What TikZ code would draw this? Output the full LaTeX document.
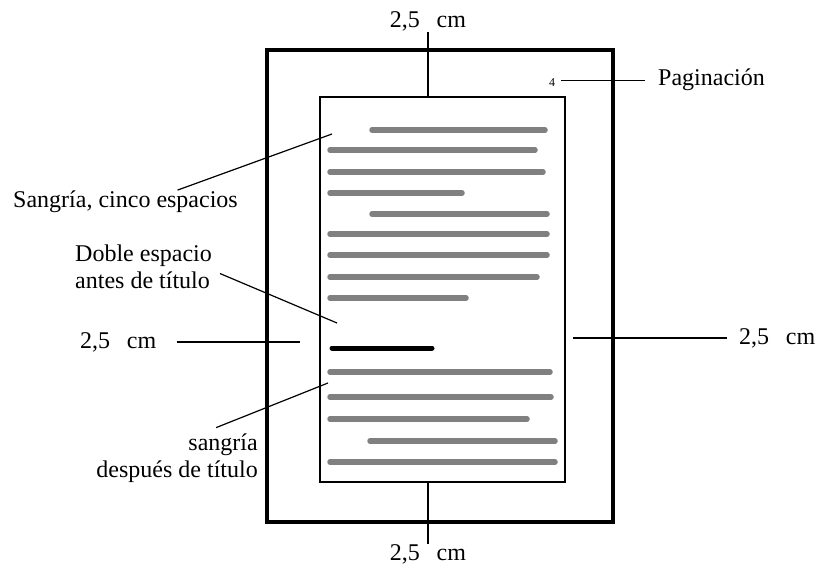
\documentclass[tikz,border=0pt]{standalone}
\usepackage{fontspec}
\setmainfont{Liberation Serif}

\begin{document}
\begin{tikzpicture}[x=1pt,y=-1pt]
    \pgfmathsetmacro{\sheetwidth}{346}
    \pgfmathsetmacro{\sheetheight}{472}
    \pgfmathsetmacro{\pagewidth}{245}
    \pgfmathsetmacro{\pageheight}{385}
    \providecommand{\labelfontsize}{\fontsize{24pt}{26.5pt}\selectfont}
    \providecommand{\numfontsize}{\fontsize{12pt}{14pt}\selectfont}
    \tikzset{
        lbl/.style={inner sep=0pt,font=\labelfontsize},
        textline/.style={line width=5.5pt,line cap=round,draw=black!50},
        titleline/.style={line width=5pt,line cap=round,draw=black},
        tick/.style={line width=2pt},
        leader/.style={line width=1.2pt},
    }
    \useasboundingbox[fill=white] (0,0) rectangle (822,567);
    % sheet and text area
    \node[draw,line width=4.5pt,minimum width=\sheetwidth pt,minimum height=\sheetheight pt,inner sep=0] (sheet) at (440,286) {};
    \node[draw,line width=2pt,minimum width=\pagewidth pt,minimum height=\pageheight pt,inner sep=0] (page) at (442.5,289.5) {};
    \foreach \y/\xa/\xb in {130/372/545,150/330/535,172/330/543,193/330/462,214/372/547,234/330/547,255/330/547,277/330/537,298/330/466,372/330/550,397/330/551,419/330/527,441/370/555,462/330/555}
        \draw[textline] (\xa,\y) -- (\xb,\y);
    \draw[titleline] (332,348) -- (432,348);
    % margins
    \node[lbl,anchor=base] (topcm) at (428,28) {2,5\hspace{0.7em}cm};
    \node[lbl,anchor=base] (bottomcm) at (428,560) {2,5\hspace{0.7em}cm};
    \node[lbl,anchor=base west] (leftcm) at (80,348) {2,5\hspace{0.7em}cm};
    \node[lbl,anchor=base west] (rightcm) at (739,344) {2,5\hspace{0.7em}cm};
    \coordinate (leftend) at (300,342);
    \coordinate (rightstart) at (573,337);
    \draw[tick] (topcm.south) -- (topcm.south |- page.north);
    \draw[tick] (bottomcm.north |- page.south) -- (bottomcm.north);
    \draw[tick] ([xshift=20pt]leftcm.east) -- (leftend |- leftcm.east);
    \draw[tick] (rightstart |- rightcm.west) -- ([xshift=-12pt]rightcm.west);
    % page number
    \node[inner sep=0pt,font=\numfontsize,anchor=base] (pagenum) at (552,87) {4};
    \node[lbl,anchor=base west] (pagination) at (658,86) {Paginación};
    \draw[leader] ([xshift=6pt]pagenum.east |- pagination.west) -- ([xshift=-13pt]pagination.west);
    % notes
    \node[lbl,anchor=base west] (indent) at (13,207) {Sangría, cinco espacios};
    \node[lbl,anchor=base west,align=left] (doublespace) at (75,288) {Doble espacio\\antes de título};
    \node[lbl,anchor=base east,align=right] (afterindent) at (258,477) {sangría\\después de título};
    \coordinate (indentend) at (332,134);
    \coordinate (doublespaceend) at (337,323);
    \coordinate (afterindentend) at (328,383);
    \draw[leader] ([xshift=52pt]indent.north) -- (indentend);
    \draw[leader] ([xshift=8pt,yshift=-7pt]doublespace.east) -- (doublespaceend);
    \draw[leader] ([xshift=39pt,yshift=6pt]afterindent.north) -- (afterindentend);
\end{tikzpicture}
\end{document}
